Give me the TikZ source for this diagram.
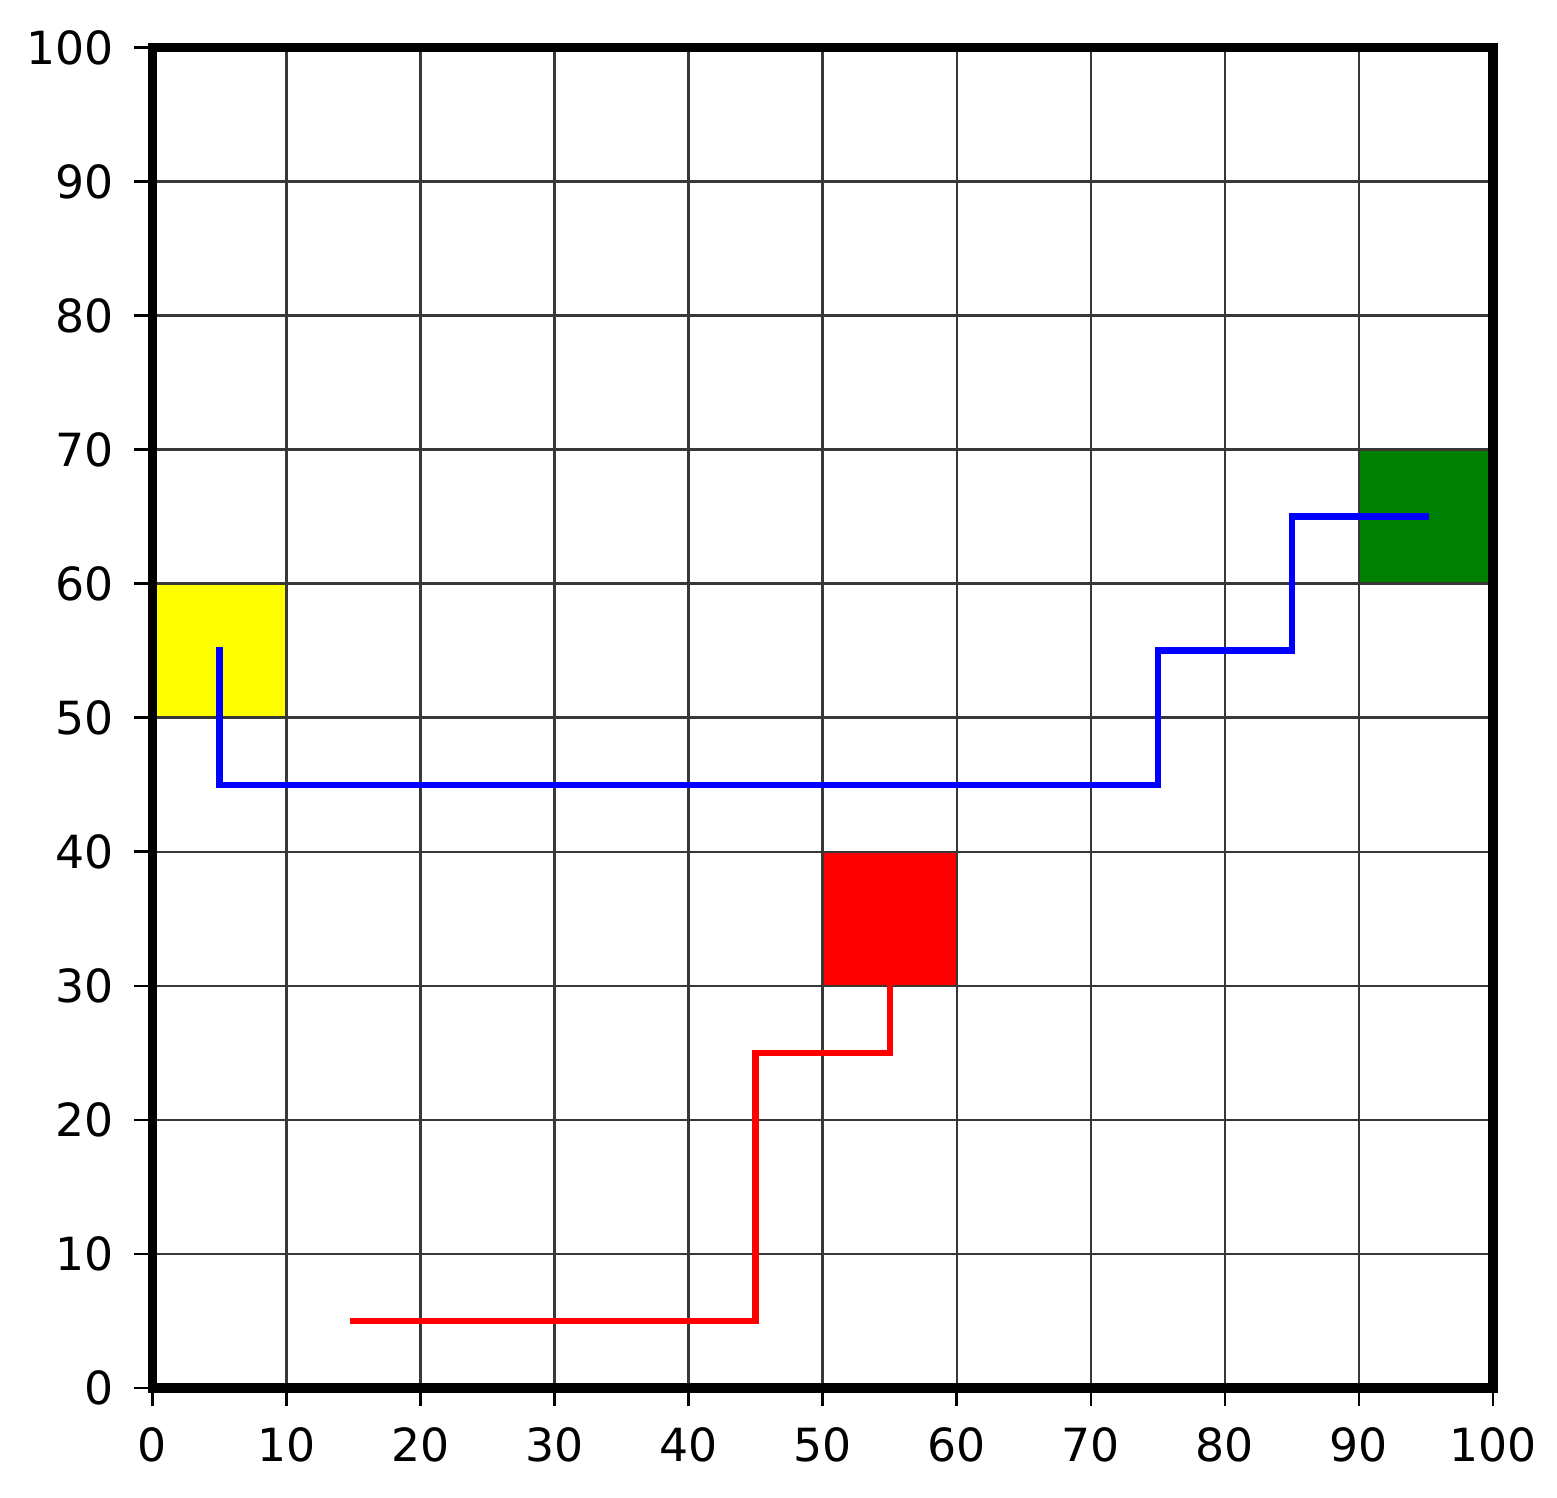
\documentclass[tikz,border=0pt]{standalone}
\usepackage{fontspec}
\setmainfont{DejaVu Sans}
\definecolor{cellyellow}{RGB}{255,255,0}
\definecolor{cellgreen}{RGB}{0,128,0}
\definecolor{cellred}{RGB}{255,0,0}
\definecolor{pathblue}{RGB}{0,0,255}
\definecolor{gridgray}{RGB}{56,56,56}
\begin{document}
\begin{tikzpicture}[
  gridline/.style={draw=gridgray, line width=1.45pt},
  frame/.style={draw=black, line width=5.6pt},
  tickmark/.style={draw=black, line width=1.5pt},
  pathline/.style={line width=3.7pt, line join=miter, line cap=rect},
  ticklabel/.style={inner sep=0pt, font=\fontsize{26}{30}\selectfont}
]
\useasboundingbox (0,0) rectangle (31.14,29.96);
\begin{scope}[shift={(3.05,2.2)}, x=0.2681cm, y=0.2681cm]
  % coloured cells
  \fill[cellyellow] (0,50) rectangle (10,60);
  \fill[cellgreen] (90,60) rectangle (100,70);
  \fill[cellred] (50,30) rectangle (60,40);
  % grid
  \foreach \v in {10,20,...,90} {
    \draw[gridline] (\v,0) -- (\v,100);
    \draw[gridline] (0,\v) -- (100,\v);
  }
  % paths
  \coordinate (b0) at (5,55);
  \coordinate (b6) at (95,65);
  \draw[pathline, pathblue] (b0) -- (5,45) -- (75,45) -- (75,55) -- (85,55) -- (85,65) -- (b6);
  \coordinate (r0) at (15,5);
  \coordinate (r4) at (55,30);
  \draw[pathline, cellred] (r0) -- (45,5) -- (45,25) -- (55,25) -- (r4);
  % ticks and labels
  \foreach \v in {0,10,...,100} {
    \draw[tickmark] (\v,0) -- (\v,-1.35);
    \node[ticklabel, anchor=north] (xl\v) at (\v,-2.91) {\v};
    \draw[tickmark] (0,\v) -- (-1.35,\v);
    \node[ticklabel, anchor=east] (yl\v) at (-2.85,\v) {\v};
  }
  % frame
  \draw[frame] (0,0) rectangle (100,100);
\end{scope}
\end{tikzpicture}
\end{document}
